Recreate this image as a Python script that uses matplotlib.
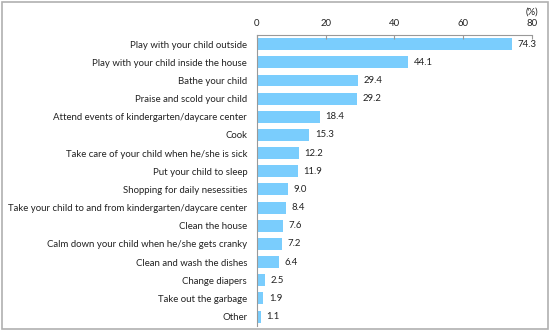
import matplotlib.pyplot as plt
from matplotlib.patches import Rectangle

# data
activities = [
    "Play with your child outside",
    "Play with your child inside the house",
    "Bathe your child",
    "Praise and scold your child",
    "Attend events of kindergarten/daycare center",
    "Cook",
    "Take care of your child when he/she is sick",
    "Put your child to sleep",
    "Shopping for daily nesessities",
    "Take your child to and from kindergarten/daycare center",
    "Clean the house",
    "Calm down your child when he/she gets cranky",
    "Clean and wash the dishes",
    "Change diapers",
    "Take out the garbage",
    "Other",
]
percent = [74.3, 44.1, 29.4, 29.2, 18.4, 15.3, 12.2, 11.9, 9.0, 8.4, 7.6, 7.2, 6.4, 2.5, 1.9, 1.1]
xticks = [0, 20, 40, 60, 80]

plt.rcParams['font.family'] = ['Lato', 'DejaVu Sans']
fs = 6.9

fig = plt.figure(figsize=(5.5, 3.31), dpi=100)
# outer gray frame
fig.patches.append(Rectangle((0.004, 0.006), 0.992, 0.988, transform=fig.transFigure,
                             fill=False, edgecolor='#b0b0b0', linewidth=1.2))

ax = fig.add_axes([0.467, 0.016, 0.5, 0.878])
pos = range(len(activities))
ax.barh(pos, percent, height=0.66, color='#7acdfd')
for i, v in enumerate(percent):
    ax.text(v + 1.6, i, f"{v:.1f}", va='center', ha='left', fontsize=fs, color='#222222')

ax.set_xlim(0, 80)
ax.set_ylim(len(activities) - 0.5, -0.5)
ax.set_yticks(list(pos))
ax.set_yticklabels(activities, fontsize=fs, color='#222222')
ax.tick_params(axis='y', length=0, pad=7)
ax.xaxis.tick_top()
ax.set_xticks(xticks)
ax.set_xticklabels([str(t) for t in xticks], fontsize=fs, color='#222222')
ax.tick_params(axis='x', direction='in', length=3, color='#999999', pad=5)
for s in ['right', 'bottom']:
    ax.spines[s].set_visible(False)
ax.spines['top'].set_color('#999999')
ax.spines['left'].set_color('#999999')
fig.text(0.967, 0.963, "(%)", ha='center', va='center', fontsize=fs, color='#222222')

fig.savefig('out.png', dpi=100)
